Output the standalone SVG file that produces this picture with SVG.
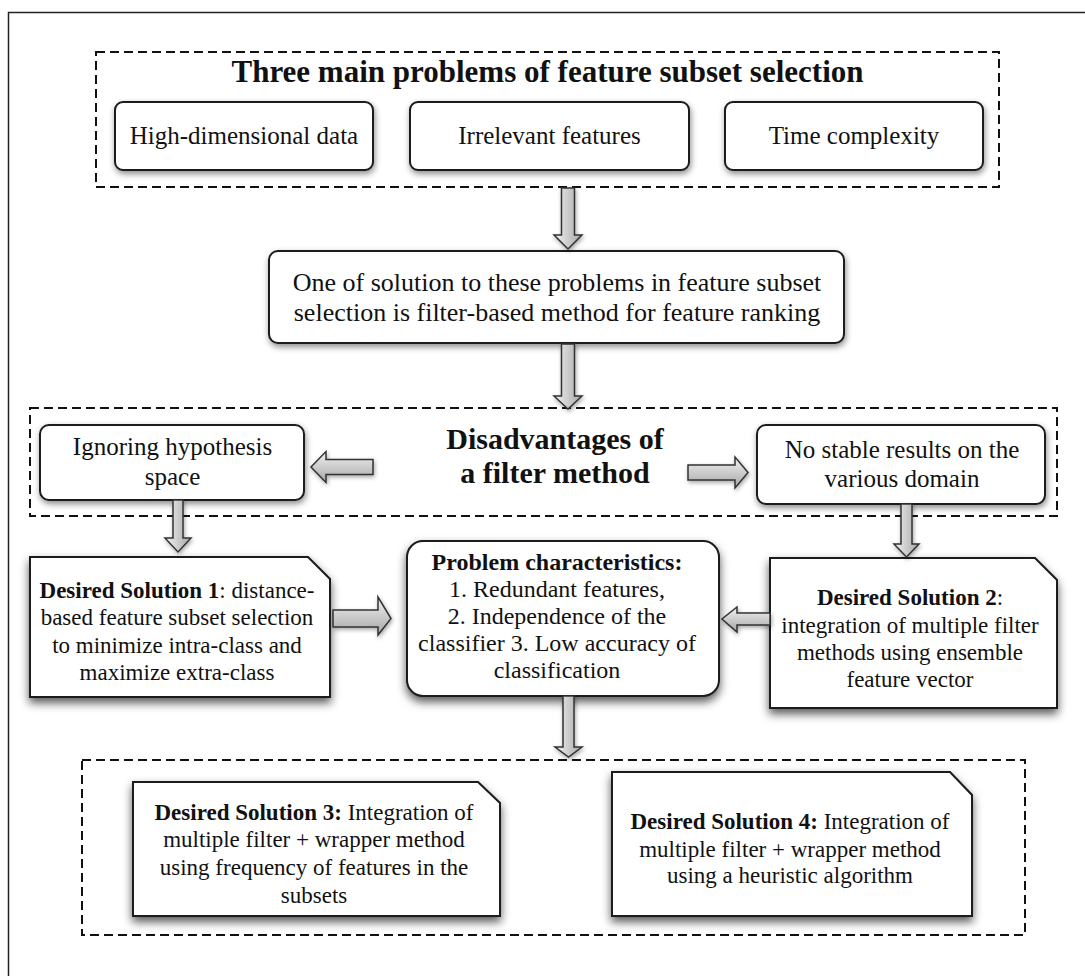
<svg xmlns="http://www.w3.org/2000/svg" width="1085" height="976" viewBox="0 0 1085 976">
<defs>
<style>
.t{font-family:"Liberation Serif","Times New Roman",serif;fill:#111;text-anchor:middle}
.b{font-weight:bold}
.dash{fill:none;stroke:#111;stroke-width:2;stroke-dasharray:9 5}
.rb{fill:#fff;stroke:#1a1a1a;stroke-width:2}
.ds{fill:#fff;stroke:#1a1a1a;stroke-width:2}
.av{fill:url(#gv);stroke:#333;stroke-width:1.5;stroke-linejoin:miter}
.ah{fill:url(#gh);stroke:#333;stroke-width:1.5;stroke-linejoin:miter}
</style>
<linearGradient id="gv" x1="0" y1="0" x2="1" y2="0"><stop offset="0" stop-color="#f2f2f2"/><stop offset="1" stop-color="#a6a6a6"/></linearGradient>
<linearGradient id="gh" x1="0" y1="0" x2="0" y2="1"><stop offset="0" stop-color="#f2f2f2"/><stop offset="1" stop-color="#a6a6a6"/></linearGradient>
<filter id="sh1" x="-20%" y="-30%" width="140%" height="170%"><feDropShadow dx="1" dy="3" stdDeviation="3" flood-color="#000" flood-opacity="0.45"/></filter>
<filter id="sh2" x="-20%" y="-30%" width="140%" height="170%"><feDropShadow dx="0" dy="5" stdDeviation="5" flood-color="#000" flood-opacity="0.65"/></filter>
<filter id="sh3" x="-30%" y="-30%" width="160%" height="170%"><feDropShadow dx="1" dy="2" stdDeviation="2" flood-color="#000" flood-opacity="0.35"/></filter>
</defs>
<rect x="0" y="0" width="1085" height="976" fill="#fff"/>
<rect x="8.5" y="12.5" width="1090" height="980" fill="none" stroke="#222" stroke-width="1.5"/>

<g id="group-top">
<rect class="dash" x="96" y="52" width="903" height="135"/>
<text class="t b" x="547.5" y="82" font-size="31">Three main problems of feature subset selection</text>
</g>
<g id="node-high-dim">
<rect class="rb" x="115" y="102" width="258" height="68" rx="8" filter="url(#sh1)"/>
<text class="t" x="244" y="144" font-size="25">High-dimensional data</text>
</g>
<g id="node-irrelevant">
<rect class="rb" x="410" y="102" width="279" height="68" rx="8" filter="url(#sh1)"/>
<text class="t" x="549.5" y="144" font-size="25">Irrelevant features</text>
</g>
<g id="node-time">
<rect class="rb" x="725" y="102" width="258" height="68" rx="8" filter="url(#sh1)"/>
<text class="t" x="854" y="144" font-size="25">Time complexity</text>
</g>

<g id="node-solution">
<rect class="rb" x="269" y="251" width="575" height="92" rx="9" filter="url(#sh1)"/>
<text class="t" x="557" y="291" font-size="26">One of solution to these problems in feature subset</text>
<text class="t" x="557" y="321" font-size="26">selection is filter-based method for feature ranking</text>
</g>

<g id="group-disadvantages">
<rect class="dash" x="30" y="408" width="1027" height="108"/>
<text class="t b" x="555" y="449" font-size="30">Disadvantages of</text>
<text class="t b" x="555" y="483" font-size="30">a filter method</text>
</g>
<g id="node-ignoring">
<rect class="rb" x="40" y="425" width="264" height="75" rx="9" filter="url(#sh1)"/>
<text class="t" x="172.5" y="455" font-size="25">Ignoring hypothesis</text>
<text class="t" x="172.5" y="485" font-size="25">space</text>
</g>
<g id="node-nostable">
<rect class="rb" x="757" y="425" width="288" height="79" rx="9" filter="url(#sh1)"/>
<text class="t" x="902" y="458" font-size="25">No stable results on the</text>
<text class="t" x="902" y="487" font-size="25">various domain</text>
</g>

<g id="node-ds1">
<path class="ds" d="M30 557 H308 L330 579 V697 H30 Z" filter="url(#sh2)"/>
<text class="t" x="177" y="598" font-size="23"><tspan class="b">Desired Solution 1</tspan>: distance-</text>
<text class="t" x="177" y="625" font-size="23">based feature subset selection</text>
<text class="t" x="177" y="653" font-size="23">to minimize intra-class and</text>
<text class="t" x="177" y="680" font-size="23">maximize extra-class</text>
</g>
<g id="node-problem">
<rect class="rb" x="407" y="541" width="312" height="155" rx="16" filter="url(#sh2)"/>
<text class="t b" x="557" y="570" font-size="24">Problem characteristics:</text>
<text class="t" x="557" y="597" font-size="24">1. Redundant features,</text>
<text class="t" x="557" y="624" font-size="24">2. Independence of the</text>
<text class="t" x="557" y="651" font-size="24">classifier 3. Low accuracy of</text>
<text class="t" x="557" y="678" font-size="24">classification</text>
</g>
<g id="node-ds2">
<path class="ds" d="M770 558 H1035 L1057 580 V708 H770 Z" filter="url(#sh2)"/>
<text class="t" x="910" y="605" font-size="23"><tspan class="b">Desired Solution 2</tspan>:</text>
<text class="t" x="910" y="633" font-size="23">integration of multiple filter</text>
<text class="t" x="910" y="660" font-size="23">methods using ensemble</text>
<text class="t" x="910" y="687" font-size="23">feature vector</text>
</g>

<g id="group-bottom">
<rect class="dash" x="82" y="760" width="943" height="175"/>
</g>
<g id="node-ds3">
<path class="ds" d="M133 782 H478 L500 803 V916 H133 Z" filter="url(#sh2)"/>
<text class="t" x="314" y="820" font-size="23"><tspan class="b">Desired Solution 3:</tspan> Integration of</text>
<text class="t" x="314" y="847" font-size="23">multiple filter + wrapper method</text>
<text class="t" x="314" y="875" font-size="23">using frequency of features in the</text>
<text class="t" x="314" y="903" font-size="23">subsets</text>
</g>
<g id="node-ds4">
<path class="ds" d="M612 772 H950 L972 795 V916 H612 Z" filter="url(#sh2)"/>
<text class="t" x="790" y="829" font-size="23"><tspan class="b">Desired Solution 4:</tspan> Integration of</text>
<text class="t" x="790" y="857" font-size="23">multiple filter + wrapper method</text>
<text class="t" x="790" y="883" font-size="23">using a heuristic algorithm</text>
</g>

<g id="connectors" filter="url(#sh3)">
<path class="av" d="M561.5 188 H574.5 V235 H582 L568 249 L554 235 H561.5 Z"/>
<path class="av" d="M561.5 344 H574.5 V396 H582 L568 409 L554 396 H561.5 Z"/>
<path class="ah" d="M373 459.5 V474.5 H326 V482.5 L311 467 L326 451.5 V459.5 Z"/>
<path class="ah" d="M688 465 H735 V457 L748 472.5 L735 488 V480 H688 Z"/>
<path class="av" d="M173 500 H183 V538 H191 L178 552 L165 538 H173 Z"/>
<path class="av" d="M901 504 H912 V544 H919 L906.5 557 L894 544 H901 Z"/>
<path class="ah" d="M333 610 H378 V597 L391 618.5 L378 635 V627 H333 Z"/>
<path class="ah" d="M770 613 V625 H737 V632 L722 619 L737 607 V613 Z"/>
<path class="av" d="M563 696 H574 V747 H582 L568.5 757 L555 747 H563 Z"/>
</g>
</svg>
